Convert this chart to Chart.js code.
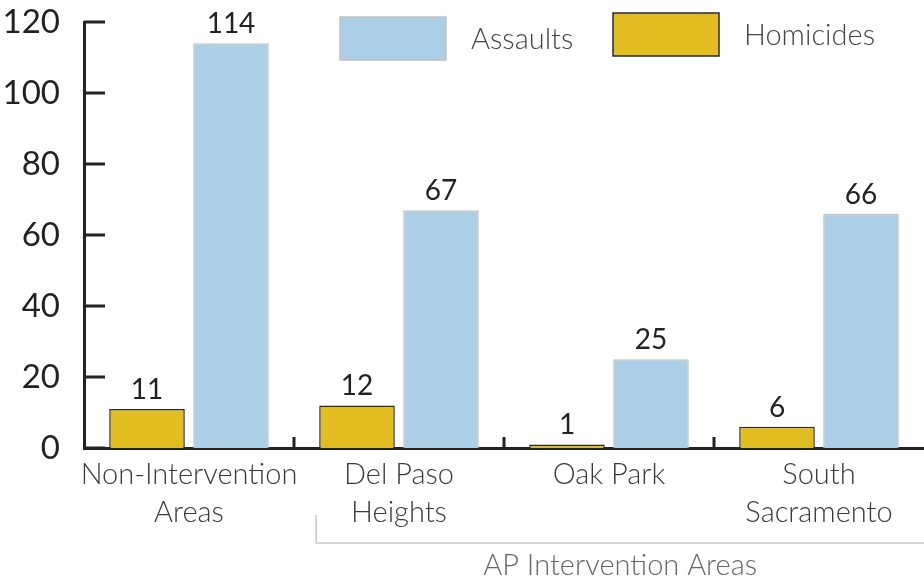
<!DOCTYPE html>
<html>
<head>
<meta charset="utf-8">
<script src="https://cdn.jsdelivr.net/npm/chart.js@4.4.1/dist/chart.umd.min.js"></script>
<style>
  html, body { margin: 0; padding: 0; background: #fff; }
  #wrap { width: 924px; height: 580px; position: relative; }
</style>
</head>
<body>
<div id="wrap"><canvas id="chart"></canvas></div>
<script>
const categories = [['Non-Intervention', 'Areas'], ['Del Paso', 'Heights'], ['Oak Park'], ['South', 'Sacramento']];
const homicides = [11, 12, 1, 6];
const assaults = [114, 67, 25, 66];
const yTicks = [0, 20, 40, 60, 80, 100, 120];
const groupLabel = 'AP Intervention Areas';

const FONT = 'Lato, "Noto Sans", sans-serif';
const AXIS_COLOR = '#222';

// ticks on the y axis point inward, category dividers stick up from the baseline
const axisMarks = {
  id: 'axisMarks',
  afterDraw(chart) {
    const { ctx, scales: { x, y } } = chart;
    ctx.save();
    ctx.strokeStyle = AXIS_COLOR;
    ctx.lineWidth = 3;
    ctx.beginPath();
    yTicks.forEach((v) => {
      const py = y.getPixelForValue(v);
      ctx.moveTo(x.left, py);
      ctx.lineTo(x.left + 21, py);
    });
    const half = (x.getPixelForValue(1) - x.getPixelForValue(0)) / 2;
    for (let i = 1; i < categories.length; i++) {
      const px = x.getPixelForValue(i) - half;
      ctx.moveTo(px, y.bottom);
      ctx.lineTo(px, y.bottom - 11);
    }
    ctx.stroke();
    ctx.restore();
  },
};

const valueLabels = {
  id: 'valueLabels',
  afterDatasetsDraw(chart) {
    const { ctx } = chart;
    ctx.save();
    ctx.font = '28px ' + FONT;
    ctx.fillStyle = '#222';
    ctx.textAlign = 'center';
    ctx.textBaseline = 'bottom';
    chart.data.datasets.forEach((ds, di) => {
      chart.getDatasetMeta(di).data.forEach((bar, i) => {
        ctx.fillText(String(ds.data[i]), bar.x, bar.y - 5);
      });
    });
    ctx.restore();
  },
};

const groupBracket = {
  id: 'groupBracket',
  afterDraw(chart) {
    const { ctx, width } = chart;
    const bar = chart.getDatasetMeta(0).data[1];
    const left = bar.x - bar.width / 2 - 3;
    ctx.save();
    ctx.strokeStyle = '#c8c8c8';
    ctx.lineWidth = 1.5;
    ctx.beginPath();
    ctx.moveTo(left, 515);
    ctx.lineTo(left, 543);
    ctx.lineTo(width, 543);
    ctx.stroke();
    ctx.font = '300 29px ' + FONT;
    ctx.fillStyle = '#666';
    ctx.textAlign = 'center';
    ctx.textBaseline = 'alphabetic';
    ctx.fillText(groupLabel, (left + width) / 2, 575);
    ctx.restore();
  },
};

const boxLegend = {
  id: 'boxLegend',
  afterDraw(chart) {
    const { ctx } = chart;
    const items = [
      { ds: chart.data.datasets[1], x: 340, y: 17 },
      { ds: chart.data.datasets[0], x: 613, y: 13 },
    ];
    ctx.save();
    ctx.font = '300 29px ' + FONT;
    ctx.textBaseline = 'middle';
    ctx.textAlign = 'left';
    items.forEach(({ ds, x, y }) => {
      ctx.fillStyle = ds.backgroundColor;
      ctx.fillRect(x, y, 106, 43);
      ctx.strokeStyle = ds.borderColor;
      ctx.lineWidth = 1.5;
      ctx.strokeRect(x, y, 106, 43);
      ctx.fillStyle = '#444';
      ctx.fillText(ds.label, x + 131, y + 23);
    });
    ctx.restore();
  },
};

new Chart(document.getElementById('chart'), {
  type: 'bar',
  data: {
    labels: categories,
    datasets: [
      {
        label: 'Homicides',
        data: homicides,
        backgroundColor: '#e2bd22',
        borderColor: '#2b2b2b',
        borderWidth: 1.5,
      },
      {
        label: 'Assaults',
        data: assaults,
        backgroundColor: '#abcfe6',
        borderColor: '#c2c2c2',
        borderWidth: 1.5,
      },
    ],
  },
  options: {
    responsive: true,
    maintainAspectRatio: false,
    animation: false,
    layout: { padding: { top: 22, right: 0, bottom: 0, left: 0 } },
    plugins: {
      legend: { display: false },
      tooltip: { enabled: false },
    },
    scales: {
      x: {
        grid: { display: false },
        border: { color: AXIS_COLOR, width: 3 },
        ticks: {
          color: '#3a3a3a',
          padding: 0,
          maxRotation: 0,
          minRotation: 0,
          autoSkip: false,
          font: { family: FONT, size: 29, weight: 300, lineHeight: 1.31 },
        },
        afterFit(scale) { scale.height = 132; },
      },
      y: {
        min: 0,
        max: 120,
        grid: { display: false },
        border: { color: AXIS_COLOR, width: 3 },
        ticks: {
          stepSize: 20,
          color: '#222',
          padding: 16,
          font: { family: FONT, size: 33 },
        },
        afterFit(scale) {
          scale.width = 84;
          scale.paddingTop = 0;
          scale.paddingBottom = 0;
        },
      },
    },
  },
  plugins: [axisMarks, valueLabels, groupBracket, boxLegend],
});
</script>
</body>
</html>
